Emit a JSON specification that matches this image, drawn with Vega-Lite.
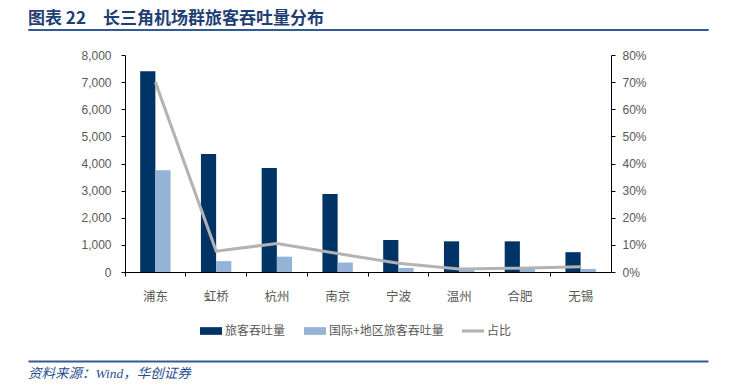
{
  "$schema": "https://vega.github.io/schema/vega-lite/v6.json",
  "background": "white",
  "padding": {"left": 27, "top": 9, "right": 0, "bottom": 0},
  "columns": 1,
  "center": true,
  "bounds": "flush",
  "spacing": 25,
  "config": {
    "view": {"stroke": null},
    "font": "Liberation Sans, Noto Sans CJK SC, sans-serif"
  },
  "datasets": {
    "bars": [
      {"city": "浦东", "series": "旅客吞吐量", "value": 7400},
      {"city": "浦东", "series": "国际+地区旅客吞吐量", "value": 3750},
      {"city": "虹桥", "series": "旅客吞吐量", "value": 4350},
      {"city": "虹桥", "series": "国际+地区旅客吞吐量", "value": 400},
      {"city": "杭州", "series": "旅客吞吐量", "value": 3830},
      {"city": "杭州", "series": "国际+地区旅客吞吐量", "value": 565},
      {"city": "南京", "series": "旅客吞吐量", "value": 2880},
      {"city": "南京", "series": "国际+地区旅客吞吐量", "value": 350},
      {"city": "宁波", "series": "旅客吞吐量", "value": 1180},
      {"city": "宁波", "series": "国际+地区旅客吞吐量", "value": 150},
      {"city": "温州", "series": "旅客吞吐量", "value": 1130},
      {"city": "温州", "series": "国际+地区旅客吞吐量", "value": 90},
      {"city": "合肥", "series": "旅客吞吐量", "value": 1130},
      {"city": "合肥", "series": "国际+地区旅客吞吐量", "value": 120},
      {"city": "无锡", "series": "旅客吞吐量", "value": 730},
      {"city": "无锡", "series": "国际+地区旅客吞吐量", "value": 110}
    ],
    "share": [
      {"city": "浦东", "share": 0.70},
      {"city": "虹桥", "share": 0.077},
      {"city": "杭州", "share": 0.105},
      {"city": "南京", "share": 0.068},
      {"city": "宁波", "share": 0.032},
      {"city": "温州", "share": 0.011},
      {"city": "合肥", "share": 0.014},
      {"city": "无锡", "share": 0.019}
    ],
    "blank": [{"k": 0}]
  },
  "concat": [
    {
      "width": 680,
      "height": 1,
      "view": {"stroke": "#2F5C99", "strokeWidth": 1},
      "title": {
        "text": "图表 22　长三角机场群旅客吞吐量分布",
        "anchor": "start",
        "fontSize": 17,
        "fontWeight": "bold",
        "color": "#1F3F74",
        "font": "Noto Sans CJK SC",
        "offset": -4
      },
      "data": {"name": "blank"},
      "mark": {"type": "text", "opacity": 0},
      "encoding": {}
    },
    {
      "width": 486,
      "height": 217,
      "layer": [
        {
          "data": {"name": "bars"},
          "mark": {"type": "bar"},
          "encoding": {
            "x": {
              "field": "city",
              "type": "nominal",
              "sort": ["浦东", "虹桥", "杭州", "南京", "宁波", "温州", "合肥", "无锡"],
              "scale": {"paddingInner": 0, "paddingOuter": 0},
              "axis": {
                "title": null,
                "labelAngle": 0,
                "bandPosition": 0,
                "domainColor": "#000000",
                "tickColor": "#000000",
                "tickSize": 4,
                "labelPadding": 14,
                "labelFontSize": 12.5,
                "labelColor": "#595959",
                "labelFont": "Noto Sans CJK SC"
              }
            },
            "xOffset": {
              "field": "series",
              "type": "nominal",
              "sort": ["旅客吞吐量", "国际+地区旅客吞吐量"],
              "scale": {"paddingInner": 0, "paddingOuter": 1.095}
            },
            "y": {
              "field": "value",
              "type": "quantitative",
              "scale": {"domain": [0, 8000]},
              "axis": {
                "title": null,
                "values": [0, 1000, 2000, 3000, 4000, 5000, 6000, 7000, 8000],
                "format": ",d",
                "grid": false,
                "domainColor": "#000000",
                "tickColor": "#000000",
                "tickSize": 4,
                "labelPadding": 10,
                "labelFontSize": 12,
                "labelColor": "#595959"
              }
            },
            "color": {
              "field": "series",
              "type": "nominal",
              "scale": {
                "domain": ["旅客吞吐量", "国际+地区旅客吞吐量", "占比"],
                "range": ["#003366", "#95B3D7", "#B3B3B3"]
              },
              "legend": {
                "title": null,
                "orient": "none",
                "legendX": 172,
                "legendY": 291,
                "direction": "horizontal",
                "symbolSize": 484,
                "symbolType": "M-1,-0.35H1V0.35H-1Z",
                "symbolStrokeWidth": 0,
                "labelFontSize": 12,
                "labelColor": "#595959",
                "labelFont": "Noto Sans CJK SC",
                "labelOffset": 3,
                "columnPadding": 18,
                "encode": {
                  "symbols": {
                    "update": {
                      "shape": {"signal": "datum.value === '占比' ? 'M-1,-0.14H1V0.14H-1Z' : 'M-1,-0.35H1V0.35H-1Z'"},
                      "fill": {"scale": "color", "field": "value"},
                      "stroke": {"value": "transparent"},
                      "opacity": {"value": 1}
                    }
                  }
                }
              }
            }
          }
        },
        {
          "data": {"name": "share"},
          "mark": {"type": "line", "strokeWidth": 3},
          "encoding": {
            "x": {
              "field": "city",
              "type": "nominal",
              "sort": ["浦东", "虹桥", "杭州", "南京", "宁波", "温州", "合肥", "无锡"]
            },
            "y": {
              "field": "share",
              "type": "quantitative",
              "scale": {"domain": [0, 0.8]},
              "axis": {
                "title": null,
                "orient": "right",
                "values": [0, 0.1, 0.2, 0.3, 0.4, 0.5, 0.6, 0.7, 0.8],
                "format": ".0%",
                "grid": false,
                "domainColor": "#000000",
                "tickColor": "#000000",
                "tickSize": 4,
                "labelPadding": 7,
                "labelFontSize": 12,
                "labelColor": "#595959"
              }
            },
            "color": {"datum": "占比"}
          }
        }
      ],
      "resolve": {"scale": {"y": "independent"}}
    },
    {
      "width": 680,
      "height": 64,
      "title": {
        "text": "资料来源：Wind，华创证券",
        "orient": "bottom",
        "anchor": "start",
        "fontSize": 13.5,
        "fontWeight": "normal",
        "fontStyle": "italic",
        "color": "#2A4F8F",
        "font": "Liberation Serif, Noto Sans CJK SC, serif",
        "offset": 6
      },
      "data": {"name": "blank"},
      "mark": {"type": "text", "opacity": 0},
      "encoding": {
        "x": {
          "datum": 0,
          "type": "quantitative",
          "scale": {"domain": [0, 1]},
          "axis": {
            "orient": "top",
            "offset": -64,
            "title": null,
            "labels": false,
            "ticks": false,
            "grid": false,
            "domainColor": "#2F5C99",
            "domainWidth": 2
          }
        }
      }
    }
  ]
}
